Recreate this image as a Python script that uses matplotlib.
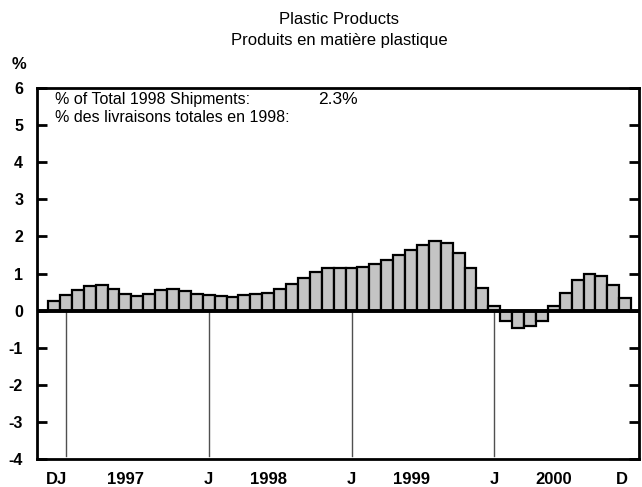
import matplotlib
matplotlib.use("Agg")
import matplotlib.pyplot as plt
import numpy as np

plt.rcParams['font.family'] = ['Liberation Sans', 'DejaVu Sans']

title_en = "Plastic Products"
title_fr = "Produits en matière plastique"

# Monthly % change, Dec 1996 .. Dec 2000
months = ["D96"] + [f"{m}{y}" for y in (97, 98, 99, 0) for m in
                    ["J", "F", "M", "A", "M", "J", "J", "A", "S", "O", "N", "D"]]
values = [0.26,
          0.41, 0.55, 0.66, 0.68, 0.59, 0.45, 0.40, 0.46, 0.55, 0.58, 0.52, 0.45,
          0.42, 0.40, 0.38, 0.41, 0.45, 0.48, 0.59, 0.73, 0.88, 1.05, 1.15, 1.15,
          1.15, 1.17, 1.25, 1.36, 1.50, 1.64, 1.77, 1.88, 1.83, 1.54, 1.14, 0.61,
          0.13, -0.29, -0.47, -0.42, -0.27, 0.13, 0.47, 0.82, 1.00, 0.94, 0.70, 0.35]

xtick_pos = [0.25, 6.0, 13, 18.0, 25, 30.0, 37, 42.0, 47.7]
xtick_labels = ["DJ", "1997", "J", "1998", "J", "1999", "J", "2000", "D"]
jan_idx = [1, 13, 25, 37]
yticks = [-4, -3, -2, -1, 0, 1, 2, 3, 4, 5, 6]

fig = plt.figure(figsize=(6.42, 4.87), dpi=100)
ax = fig.add_axes([37/642, 1-459/487, (639-37)/642, (459-88)/487])

x = np.arange(len(values))
for j in jan_idx:
    ax.plot([j, j], [0, -3.92], color='#505050', lw=1.0, zorder=1)
ax.bar(x, values, width=1.0, facecolor='#c4c4c4', edgecolor='black',
       linewidth=1.6, zorder=2)
ax.axhline(0, color='black', lw=2.8, zorder=3)

ax.set_xlim(-1.43, 49.16)
ax.set_ylim(-4, 6)
ax.set_yticks(yticks)
ax.set_yticklabels([str(v) for v in yticks], fontsize=11.5, fontweight='bold')
ax.tick_params(axis='y', direction='in', length=7, width=2, left=True,
               right=True, pad=10)
ax.set_xticks(xtick_pos)
ax.set_xticklabels(xtick_labels, fontsize=12, fontweight='bold')
ax.tick_params(axis='x', length=0, pad=9)
for s in ax.spines.values():
    s.set_linewidth(2)

ax.text(-0.03, 1.062, "%", transform=ax.transAxes, fontsize=12,
        fontweight='bold', ha='center', va='center')
fig.text(339/642, 1-20/487, title_en, ha='center', va='center', fontsize=12)
fig.text(339/642, 1-40/487, title_fr, ha='center', va='center', fontsize=12)

fig.text(55/642, 1-100/487, "% of Total 1998 Shipments:", ha='left',
         va='center', fontsize=11.5)
fig.text(318/642, 1-99/487, "2.3%", ha='left', va='center', fontsize=12.5)
fig.text(55/642, 1-118/487, "% des livraisons totales en 1998:", ha='left',
         va='center', fontsize=11.5)

fig.savefig("out.png", dpi=100)
